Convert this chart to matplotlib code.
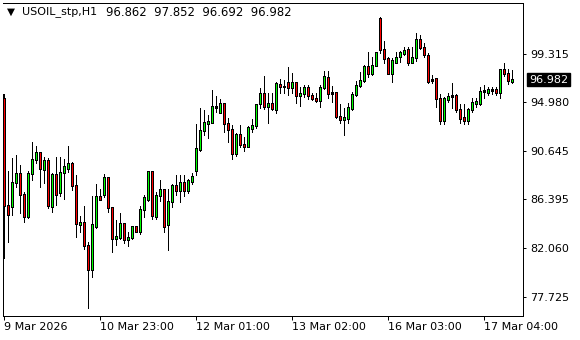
import matplotlib
matplotlib.use("Agg")
import matplotlib.pyplot as plt
import matplotlib.transforms as mtransforms
import numpy as np

symbol = "USOIL_stp"
timeframe = "H1"

opens = [
    95.33, 85.86, 85.71, 87.88, 88.70, 86.81, 84.82, 88.68, 89.92, 90.54,
    89.03, 89.83, 85.71, 88.61, 86.95, 88.76, 89.08, 89.59, 87.61, 84.11,
    84.35, 82.25, 80.12, 84.00, 86.63, 86.78, 88.32, 85.64, 82.87, 83.02,
    84.18, 82.78, 82.96, 84.00, 83.47, 85.48, 86.39, 88.82, 84.82, 86.69,
    87.28, 84.15, 86.16, 87.64, 87.13, 87.90, 87.19, 87.93, 88.94, 90.81,
    92.48, 93.08, 93.23, 94.50, 94.12, 94.92, 93.11, 92.56, 90.45, 92.16,
    91.25, 91.04, 92.65, 92.92, 94.85, 95.80, 94.61, 94.90, 94.30, 96.60,
    96.36, 96.75, 96.29, 96.74, 95.55, 95.78, 96.34, 95.58, 95.36, 95.14,
    96.29, 97.20, 95.88, 95.88, 93.76, 93.44, 93.56, 94.45, 95.72, 96.45,
    96.90, 98.14, 97.55, 98.29, 102.44, 99.68, 98.88, 97.55, 98.51, 99.03,
    99.33, 99.68, 98.53, 98.97, 100.58, 99.86, 99.18, 97.02, 97.11, 95.33,
    93.36, 95.25, 95.52, 95.61, 94.36, 93.59, 93.38, 94.36, 94.92, 94.89,
    95.91, 95.88, 96.01, 96.12, 95.85, 97.92, 97.54, 96.862,
]
highs = [
    95.72, 88.91, 90.01, 90.30, 89.41, 87.04, 88.88, 91.45, 91.10, 90.58,
    90.15, 90.01, 88.68, 90.15, 90.15, 89.92, 91.10, 89.68, 88.53, 84.89,
    85.77, 82.60, 86.66, 87.73, 87.26, 88.61, 88.35, 85.71, 84.53, 85.13,
    84.29, 83.49, 84.03, 84.03, 85.77, 86.75, 88.91, 88.85, 87.02, 88.08,
    87.31, 87.26, 87.73, 88.53, 88.53, 88.50, 88.14, 88.68, 93.05, 94.45,
    94.30, 93.88, 96.07, 95.54, 95.27, 94.95, 93.59, 92.96, 92.23, 92.96,
    91.90, 92.87, 93.50, 94.87, 96.29, 97.31, 95.80, 95.78, 96.78, 97.07,
    96.96, 98.11, 97.61, 96.77, 96.31, 96.51, 96.51, 95.78, 95.78, 96.51,
    97.76, 97.76, 96.43, 95.92, 94.87, 94.47, 94.89, 95.89, 96.90, 97.65,
    98.29, 99.47, 99.03, 99.47, 102.52, 100.45, 99.03, 98.88, 99.42, 99.53,
    99.86, 99.86, 99.86, 101.10, 100.95, 100.22, 99.33, 97.40, 97.14, 95.72,
    95.48, 95.78, 96.67, 95.69, 94.83, 94.83, 94.45, 95.33, 95.33, 96.36,
    96.51, 96.36, 96.36, 96.36, 97.98, 98.49, 97.92, 97.852,
]
lows = [
    81.13, 82.60, 84.97, 87.43, 85.13, 84.38, 84.68, 88.08, 89.56, 87.43,
    87.84, 85.57, 85.27, 85.89, 86.66, 86.37, 88.82, 87.19, 83.05, 83.49,
    81.93, 76.69, 79.50, 83.85, 86.31, 86.60, 85.27, 81.72, 82.31, 82.87,
    82.52, 82.25, 82.87, 83.44, 83.29, 84.82, 86.24, 84.65, 84.65, 86.22,
    83.49, 81.87, 85.71, 86.75, 86.16, 86.66, 86.95, 87.73, 88.53, 90.66,
    92.08, 91.77, 93.14, 94.14, 94.00, 92.37, 91.48, 89.92, 90.24, 91.04,
    90.66, 90.99, 92.34, 92.67, 94.45, 94.38, 93.11, 94.30, 94.00, 95.78,
    95.78, 95.63, 95.78, 94.89, 94.68, 95.48, 95.25, 95.18, 95.03, 94.56,
    96.16, 95.40, 95.03, 93.59, 93.11, 92.08, 93.14, 94.30, 95.58, 96.34,
    96.81, 97.25, 97.40, 98.20, 99.38, 98.49, 97.46, 96.81, 98.44, 98.58,
    99.18, 98.29, 98.44, 98.69, 99.68, 99.04, 96.74, 96.67, 94.61, 93.03,
    93.03, 95.03, 94.52, 94.14, 93.11, 93.05, 93.05, 94.14, 94.59, 94.74,
    95.33, 95.63, 95.72, 95.63, 95.33, 97.31, 96.62, 96.692,
]
closes = [
    85.86, 85.04, 87.88, 88.70, 86.81, 84.82, 88.70, 89.92, 90.54, 89.12,
    89.83, 85.80, 88.61, 86.84, 88.76, 89.24, 89.59, 87.61, 84.20, 84.35,
    82.25, 80.12, 84.09, 86.63, 86.33, 88.32, 85.64, 82.87, 83.11, 84.18,
    82.82, 83.02, 84.00, 83.49, 85.51, 86.55, 88.82, 84.89, 86.75, 87.28,
    84.00, 86.22, 87.64, 87.13, 87.90, 87.19, 88.02, 88.44, 90.90, 92.50,
    93.23, 93.32, 94.65, 94.65, 94.92, 93.11, 92.56, 90.45, 92.16, 91.25,
    91.04, 92.79, 92.95, 94.81, 95.80, 94.61, 94.90, 94.43, 96.69, 96.36,
    96.43, 96.34, 96.72, 95.56, 95.80, 96.34, 95.58, 95.32, 95.12, 96.34,
    97.31, 95.80, 95.78, 93.76, 93.44, 93.67, 94.54, 95.72, 96.50, 96.93,
    98.14, 97.55, 98.29, 99.42, 99.68, 98.88, 97.55, 98.67, 98.97, 99.38,
    99.62, 98.53, 98.97, 100.58, 99.86, 99.22, 96.81, 96.91, 95.33, 93.36,
    95.29, 95.54, 95.61, 94.36, 93.56, 93.38, 94.30, 94.98, 95.05, 95.98,
    96.04, 96.10, 96.09, 95.85, 97.92, 97.54, 96.91, 96.982,
]

price_ticks = [99.315, 94.980, 90.645, 86.395, 82.060, 77.725]
price_tick_labels = ["99.315", "94.980", "90.645", "86.395", "82.060", "77.725"]
time_labels = ["9 Mar 2026", "10 Mar 23:00", "12 Mar 01:00",
               "13 Mar 02:00", "16 Mar 03:00", "17 Mar 04:00"]
label_every = 24

bull_color = "#00ff00"
bear_color = "#ff0000"

o = np.array(opens); h = np.array(highs); l = np.array(lows); c = np.array(closes)
n = len(o)
x = np.arange(n)

W, H = 580, 340
fig = plt.figure(figsize=(W / 100, H / 100), dpi=100)
fig.patch.set_facecolor("white")
L, R, T, B = 3, 523, 3, 316
ax = fig.add_axes([L / W, 1 - B / H, (R - L) / W, (B - T) / H])
bar_px = 4.0
ylo, yhi = 76.01, 103.80
ax.set_xlim(-0.125, -0.125 + (R - L) / bar_px)
ax.set_ylim(ylo, yhi)
ppx = (yhi - ylo) / (B - T)      # price per pixel

px = 72 / 100  # one pixel in points
# wicks
ax.vlines(x, l, h, color="black", linewidth=px, antialiased=False,
          capstyle="butt", zorder=2)

body_lo = np.minimum(o, c)
body_hi = np.maximum(o, c)
up = c >= o
cols = np.where(up, bull_color, bear_color)
# black outline of the body (3 px wide)
ax.vlines(x, body_lo - 0.5 * ppx, body_hi + 0.5 * ppx, color="black",
          linewidth=3 * px, antialiased=False, capstyle="butt", zorder=3)
# coloured 1 px interior
m = (body_hi - body_lo) > 1.2 * ppx
ax.vlines(x[m], body_lo[m] + 0.5 * ppx, body_hi[m] - 0.5 * ppx, colors=list(cols[m]),
          linewidth=px, antialiased=False, capstyle="butt", zorder=4)

for s in ax.spines.values():
    s.set_color("black")
    s.set_linewidth(px)
ax.spines["left"].set_bounds(ylo, h[0])

ax.yaxis.tick_right()
ax.set_yticks(price_ticks)
ax.set_yticklabels(price_tick_labels)
ax.tick_params(axis="y", direction="out", length=3 * px, width=px, pad=4 * px,
               labelsize=8, colors="black")
ax.set_xticks(x[::label_every][:len(time_labels)])
ax.set_xticklabels(time_labels)
ax.tick_params(axis="x", direction="out", length=4 * px, width=px, pad=2 * px,
               labelsize=8, colors="black")
for lab in ax.get_xticklabels():
    lab.set_horizontalalignment("left")

trans = mtransforms.blended_transform_factory(ax.transAxes, ax.transData)
ax.text(1 + 6 / (R - L), c[-1], f"{c[-1]:.3f}", transform=trans, ha="left",
        va="center", color="white", fontsize=8, zorder=10,
        bbox=dict(boxstyle="square,pad=0.15", fc="black", ec="black"))

fig.text(7 / W, 1 - 12 / H, "\u25bc", fontsize=7.5, color="black", va="center", ha="left")
fig.text(22 / W, 1 - 12 / H, f"{symbol},{timeframe}",
         fontsize=8, color="black", va="center", ha="left")
fig.text(106 / W, 1 - 12 / H,
         "  ".join(f"{v:.3f}" for v in (o[-1], h[-1], l[-1], c[-1])),
         fontsize=8.4, color="black", va="center", ha="left")

fig.savefig("out.png", dpi=100, facecolor="white")
